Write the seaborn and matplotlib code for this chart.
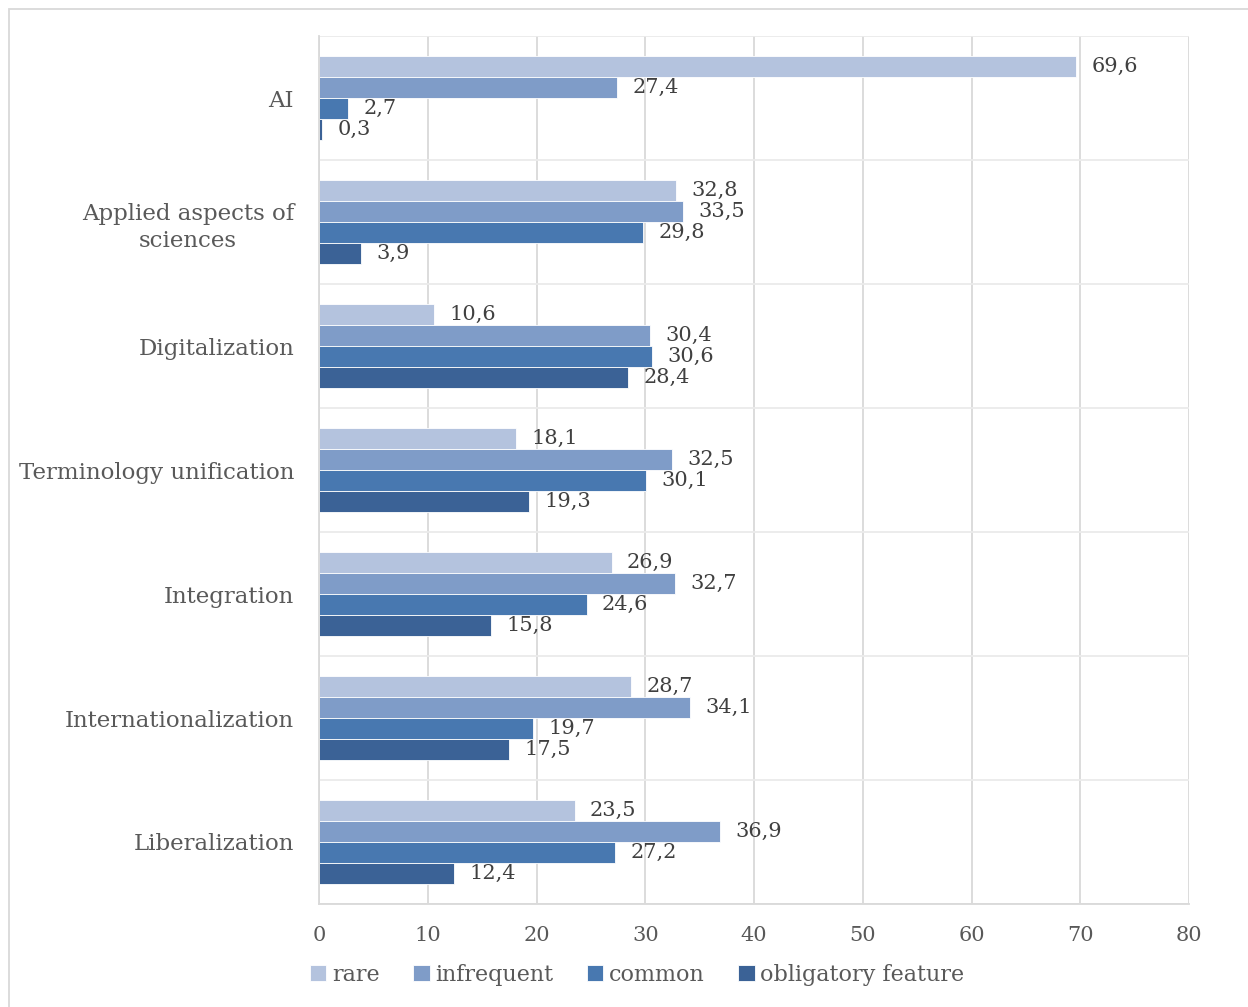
import numpy as np
import pandas as pd
import matplotlib
matplotlib.use('Agg')
import matplotlib.pyplot as plt
from matplotlib.patches import Rectangle
import seaborn as sns

categories = ['AI', 'Applied aspects of\nsciences', 'Digitalization', 'Terminology unification',
              'Integration', 'Internationalization', 'Liberalization']
levels = ['rare', 'infrequent', 'common', 'obligatory feature']

rare = [69.6, 32.8, 10.6, 18.1, 26.9, 28.7, 23.5]
infrequent = [27.4, 33.5, 30.4, 32.5, 32.7, 34.1, 36.9]
common = [2.7, 29.8, 30.6, 30.1, 24.6, 19.7, 27.2]
obligatory = [0.3, 3.9, 28.4, 19.3, 15.8, 17.5, 12.4]

x_ticks = [0, 10, 20, 30, 40, 50, 60, 70, 80]

colors = ['#B4C3DE', '#7F9CC8', '#4878B0', '#3B6296']

# long-form table for seaborn
rows = []
for lev, vals in zip(levels, [rare, infrequent, common, obligatory]):
    for cat, v in zip(categories, vals):
        rows.append({'category': cat, 'level': lev, 'value': v})
df = pd.DataFrame(rows)

sns.set_theme(style='white')
plt.rcParams['font.family'] = ['DejaVu Serif']

fig = plt.figure(figsize=(12.48, 10.07), dpi=100)
ax = fig.add_axes([319 / 1248, 1 - 904 / 1007, 870 / 1248, 868 / 1007])

sns.barplot(data=df, y='category', x='value', hue='level', order=categories, hue_order=levels,
            palette=colors, orient='h', width=0.685, gap=0, dodge=True, ax=ax,
            edgecolor='white', linewidth=0.6, saturation=1, errorbar=None)

for cont, vals in zip(ax.containers, [rare, infrequent, common, obligatory]):
    ax.bar_label(cont, labels=[f'{v:.1f}'.replace('.', ',') for v in vals], padding=11,
                 fontsize=15, color='#404040')

ax.set_xlim(0, 80)
ax.set_ylim(6.5, -0.5)
ax.set_xticks(x_ticks)
ax.set_yticks(np.arange(-0.5, 7.0, 0.5), minor=True)
ax.set_xlabel('')
ax.set_ylabel('')

ax.set_axisbelow(True)
ax.grid(axis='x', which='major', color='#D9D9D9', linewidth=1.3)
ax.grid(axis='y', which='minor', color='#EBEBEB', linewidth=1.3)
ax.tick_params(axis='y', which='both', length=0, pad=18, labelsize=16.5, labelcolor='#595959')
ax.tick_params(axis='x', length=0, pad=16, labelsize=15, labelcolor='#595959')
for lab in ax.get_yticklabels():
    lab.set_multialignment('center')
    lab.set_linespacing(1.3)

for s in ['top', 'right']:
    ax.spines[s].set_visible(False)
for s in ['left', 'bottom']:
    ax.spines[s].set_color('#D9D9D9')
    ax.spines[s].set_linewidth(1.3)

handles, labels = ax.get_legend_handles_labels()
ax.get_legend().remove()
fig.legend(handles, labels, loc='center', bbox_to_anchor=(637 / 1248, 1 - 975 / 1007), ncol=4,
           frameon=False, fontsize=16, labelcolor='#595959', handlelength=0.75, handleheight=0.75,
           handletextpad=0.25, columnspacing=1.5)

# outer chart frame
fig.patches.append(Rectangle((9 / 1248, -0.05), 1.1, 1 - 9 / 1007 + 0.05, transform=fig.transFigure,
                             fill=False, edgecolor='#D9D9D9', linewidth=1.3))

fig.savefig('out.png', dpi=100, facecolor='white')
